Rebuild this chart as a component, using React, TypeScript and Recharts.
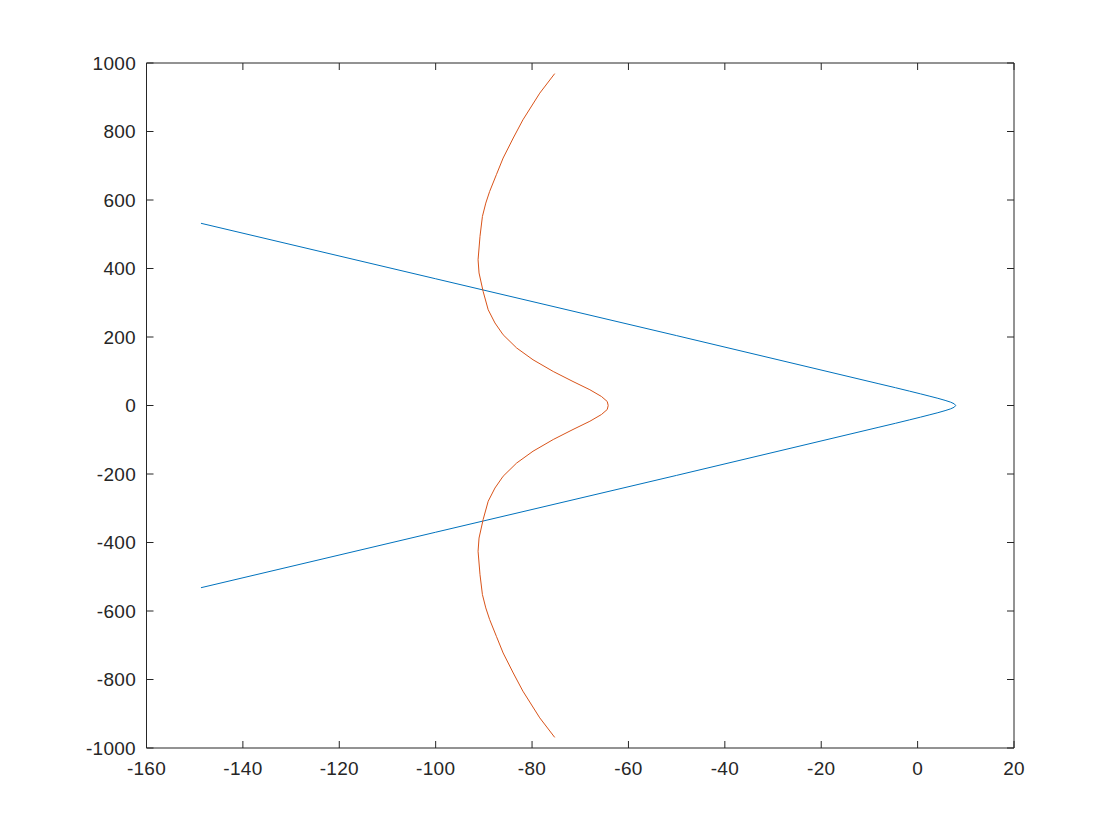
import React from 'react';
import { LineChart, Line, XAxis, YAxis } from 'recharts';

// Upper half of each curve (from the open end toward y = 0); the lower half mirrors it.
const blueUpperX = [-148.7, -100, -50, -8.2, -4.6, -1.7, 0.6, 2.55, 4.2, 5.7, 6.8, 7.6, 7.9];
const blueUpperY = [532, 370, 204, 64, 52, 42, 34, 27, 21, 15, 10, 5, 0];

const redUpperX = [-75.3, -78.4, -81.9, -83.9, -86.0, -87.4, -88.8, -89.6, -90.3, -90.8, -91.2, -91.0, -90.15, -89.1, -87.7, -86.0, -83.2, -79.8, -75.6, -71.5, -68.0, -65.6, -64.4, -64.2];
const redUpperY = [969, 912, 834, 781, 722.5, 674, 625, 591, 552, 494, 425.5, 387, 333, 279.5, 241, 206.5, 168, 133.5, 99.3, 70, 46, 26.3, 11.7, 0];

const xTicks = [-160, -140, -120, -100, -80, -60, -40, -20, 0, 20];
const yTicks = [-1000, -800, -600, -400, -200, 0, 200, 400, 600, 800, 1000];

function mirrored(xs: number[], ys: number[]) {
  const upper = xs.map((x, i) => ({ x, y: ys[i] }));
  const lower = xs
    .slice(0, -1)
    .map((x, i) => ({ x, y: -ys[i] }))
    .reverse();
  return [...upper, ...lower];
}

const blueData = mirrored(blueUpperX, blueUpperY);
const redData = mirrored(redUpperX, redUpperY);

const axisColor = '#262626';
const fontFamily = '"Liberation Sans", Arial, Helvetica, sans-serif';
const fontSize = 19;
const letterSpacing = 0.3;
const TICK = 7;
const X_GAP = 14;
const Y_GAP = 10.5;

const BottomTick = (props: any) => {
  const { x, y, payload } = props;
  const ay = y - X_GAP;
  return (
    <g>
      <line x1={x} y1={ay} x2={x} y2={ay - TICK} stroke={axisColor} strokeWidth={1} />
      <text x={x} y={y} dy="0.7em" textAnchor="middle" fill={axisColor} fontFamily={fontFamily} fontSize={fontSize} letterSpacing={letterSpacing}>
        {payload.value}
      </text>
    </g>
  );
};

const LeftTick = (props: any) => {
  const { x, y, payload } = props;
  const ax = x + Y_GAP;
  return (
    <g>
      <line x1={ax} y1={y} x2={ax + TICK} y2={y} stroke={axisColor} strokeWidth={1} />
      <text x={x} y={y} dy="0.36em" textAnchor="end" fill={axisColor} fontFamily={fontFamily} fontSize={fontSize} letterSpacing={letterSpacing}>
        {payload.value}
      </text>
    </g>
  );
};

const TopTick = (props: any) => {
  const { x, y } = props;
  return <line x1={x} y1={y} x2={x} y2={y + TICK} stroke={axisColor} strokeWidth={1} />;
};

const RightTick = (props: any) => {
  const { x, y } = props;
  return <line x1={x} y1={y} x2={x - TICK} y2={y} stroke={axisColor} strokeWidth={1} />;
};

export default function App() {
  return (
    <div style={{ width: 1120, height: 840, background: '#fff' }}>
      <style>{'body{margin:0;background:#fff;}'}</style>
      <LineChart
        width={1120}
        height={840}
        margin={{ top: 62, right: 105, bottom: 62, left: 86.5 }}
      >
        <XAxis
          xAxisId="b"
          type="number"
          dataKey="x"
          domain={[-160, 20]}
          ticks={xTicks}
          allowDataOverflow
          height={30}
          tickSize={0}
          tickMargin={X_GAP}
          tickLine={false}
          tick={<BottomTick />}
          axisLine={{ stroke: axisColor, strokeWidth: 1 }}
        />
        <XAxis
          xAxisId="t"
          orientation="top"
          type="number"
          dataKey="x"
          domain={[-160, 20]}
          ticks={xTicks}
          allowDataOverflow
          height={1}
          tickSize={0}
          tickMargin={0}
          tickLine={false}
          tick={<TopTick />}
          axisLine={{ stroke: axisColor, strokeWidth: 1 }}
        />
        <YAxis
          yAxisId="l"
          type="number"
          dataKey="y"
          domain={[-1000, 1000]}
          ticks={yTicks}
          allowDataOverflow
          width={60}
          tickSize={0}
          tickMargin={Y_GAP}
          tickLine={false}
          tick={<LeftTick />}
          axisLine={{ stroke: axisColor, strokeWidth: 1 }}
        />
        <YAxis
          yAxisId="r"
          orientation="right"
          type="number"
          dataKey="y"
          domain={[-1000, 1000]}
          ticks={yTicks}
          allowDataOverflow
          width={1}
          tickSize={0}
          tickMargin={0}
          tickLine={false}
          tick={<RightTick />}
          axisLine={{ stroke: axisColor, strokeWidth: 1 }}
        />
        <Line
          xAxisId="b"
          yAxisId="l"
          data={blueData}
          dataKey="y"
          type="linear"
          stroke="#0072BD"
          strokeWidth={1}
          dot={false}
          activeDot={false}
          isAnimationActive={false}
        />
        <Line
          xAxisId="b"
          yAxisId="l"
          data={redData}
          dataKey="y"
          type="linear"
          stroke="#D95319"
          strokeWidth={1}
          dot={false}
          activeDot={false}
          isAnimationActive={false}
        />
        <Line
          xAxisId="t"
          yAxisId="r"
          data={blueData}
          dataKey="y"
          type="linear"
          stroke="none"
          strokeWidth={0}
          dot={false}
          activeDot={false}
          legendType="none"
          isAnimationActive={false}
        />
      </LineChart>
    </div>
  );
}
